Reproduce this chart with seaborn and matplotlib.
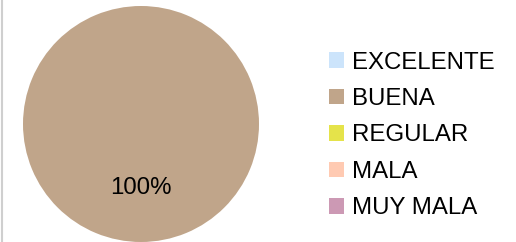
import matplotlib
matplotlib.use("Agg")
import matplotlib.pyplot as plt
import seaborn as sns

# data
categories = ["EXCELENTE", "BUENA", "REGULAR", "MALA", "MUY MALA"]
values = [0, 100, 0, 0, 0]
colors = ["#cce4fb", "#c0a58a", "#e5e34a", "#ffcab2", "#cc99b4"]

sns.set_style("white")
plt.rcParams["font.family"] = ["Liberation Sans", "DejaVu Sans"]
plt.rcParams["text.color"] = "black"

W, H = 516, 242
fig = plt.figure(figsize=(W / 100, H / 100), dpi=100)

# pie axes: circle centre (141, 124) px from top-left, radius 118 px
cx, cy, r = 141, 124, 118
ax = fig.add_axes([(cx - r) / W, (H - cy - r) / H, 2 * r / W, 2 * r / H])


def pct_label(p):
    return f"{p:.0f}%" if p > 0 else ""


wedges, texts, autotexts = ax.pie(
    values,
    colors=colors,
    startangle=90,
    counterclock=False,
    autopct=pct_label,
    pctdistance=0.54,
    textprops={"fontsize": 17.3, "color": "black"},
    wedgeprops={"linewidth": 0, "clip_on": False},
)
ax.set_xlim(-1, 1)
ax.set_ylim(-1, 1)
ax.set_aspect("equal")
ax.axis("off")

fig.legend(
    wedges,
    categories,
    loc="center left",
    bbox_to_anchor=(329 / W, (H - 135.5) / H),
    frameon=False,
    fontsize=17.3,
    labelcolor="black",
    handlelength=0.62,
    handleheight=0.62,
    handletextpad=0.35,
    labelspacing=0.6,
    borderaxespad=0,
    borderpad=0,
)

# thin grey border on the left edge
fig.add_artist(plt.Line2D([0.003, 0.003], [0, 1], transform=fig.transFigure,
                          color="#cfcfcf", linewidth=1.5))

fig.savefig("out.png", dpi=100)
plt.close(fig)
